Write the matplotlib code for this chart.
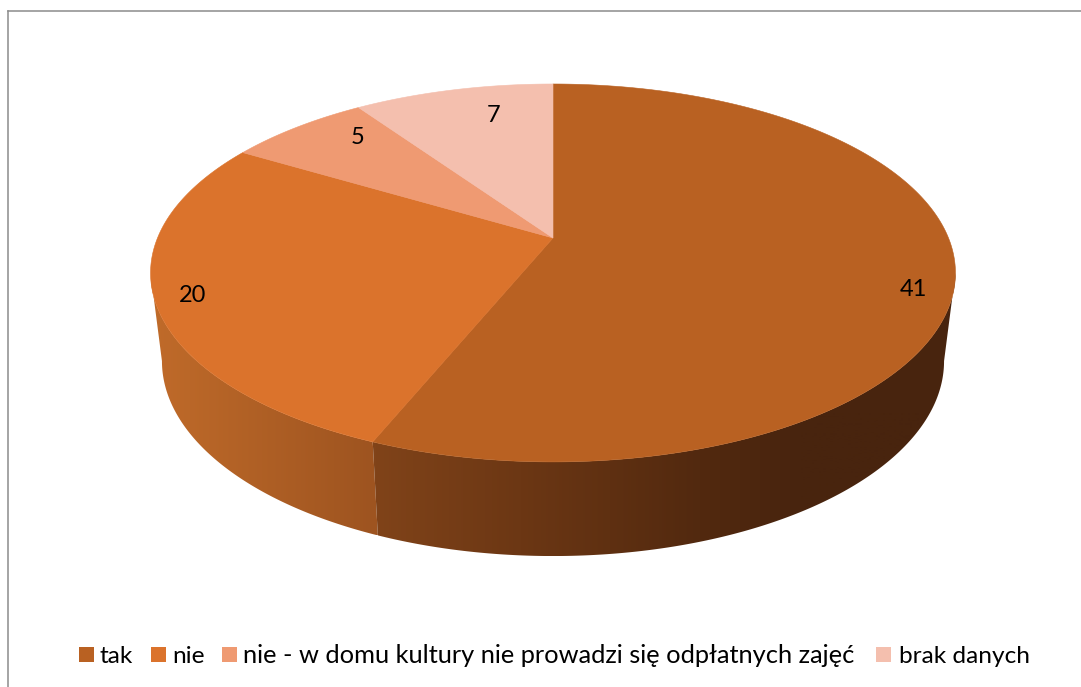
import numpy as np
import matplotlib
matplotlib.use("Agg")
import matplotlib.pyplot as plt
from matplotlib.patches import Polygon, Rectangle

labels = ["tak", "nie", "nie - w domu kultury nie prowadzi się odpłatnych zajęć", "brak danych"]
values = [41, 20, 5, 7]
colors = ["#B96122", "#DB732C", "#EF9A72", "#F4BFAE"]

plt.rcParams['font.family'] = ['Lato', 'DejaVu Sans']

fig = plt.figure(figsize=(10.81, 6.87), dpi=100)
ax = fig.add_axes([0, 0, 1, 1])

# rzut perspektywiczny okregu na ekran
C = 0.185


def project(ang, cx, cy, sx, sy):
    x = np.sin(ang)
    y = np.cos(ang)
    w = 1 + C * y
    return cx + sx * x / w, cy - sy * y / w


top = (553, 238, 395.5, 182.5)
bottom = (553, 325, 384.3, 188.3)

edges = np.radians(np.concatenate([[0], np.cumsum(values)]) / sum(values) * 360)

# cieniowanie boku zalezy od x
side_x = [[376, 520, 700, 800], [150, 373]]
side_rgb = [[(128, 67, 25), (108, 55, 20), (82, 41, 15), (72, 36, 14)],
            [(192, 107, 42), (158, 84, 32)]]
# widoczna czesc boku konczy sie na skrajnym punkcie elipsy
edge_ang = np.arccos(-C)
side_ang = [(edge_ang, edges[1]), (edges[1], 2 * np.pi - edge_ang)]

for i in [1, 0]:
    ang = np.linspace(side_ang[i][0], side_ang[i][1], 300)
    xt, yt = project(ang, *top)
    xb, yb = project(ang, *bottom)
    pts = np.column_stack([np.r_[xt, xb[::-1]], np.r_[yt, yb[::-1]]])
    x0, x1 = pts[:, 0].min(), pts[:, 0].max()
    xs = np.arange(x0, x1 + 1)
    grad = np.array([[np.interp(xs, side_x[i], [c[k] for c in side_rgb[i]]) / 255 for k in range(3)]])
    grad = np.transpose(grad, (0, 2, 1))
    im = ax.imshow(grad, extent=(x0, x1, pts[:, 1].max(), pts[:, 1].min()), aspect="auto", zorder=2)
    im.set_clip_path(Polygon(pts, closed=True, transform=ax.transData))

for i in range(len(values)):
    ang = np.linspace(edges[i], edges[i + 1], 300)
    xt, yt = project(ang, *top)
    pts = np.column_stack([np.r_[top[0], xt], np.r_[top[1], yt]])
    ax.add_patch(Polygon(pts, closed=True, fc=colors[i], ec=colors[i], lw=0.4, zorder=3))

# etykiety danych
label_xy = [(913, 290), (193, 296), (358, 138), (494, 116)]
for v, (x, y) in zip(values, label_xy):
    ax.text(x, y, str(v), fontsize=17, color="black", ha="center", va="center", zorder=4)

# legenda
box_x = [79, 151, 222, 876]
text_x = [100, 172, 243, 899]
text_size = [17.6, 17.6, 18.3, 17.6]
for i in range(len(labels)):
    ax.add_patch(Rectangle((box_x[i], 647), 15, 15, fc=colors[i], ec="none"))
    ax.text(text_x[i], 663, labels[i], fontsize=text_size[i], color="black", ha="left", va="baseline")

# ramka
ax.plot([7.5, 7.5], [687, 10.5], color="#8C8C8C", lw=1.1)
ax.plot([7.5, 1081], [10.5, 10.5], color="#8C8C8C", lw=1.1)

ax.set_xlim(0, 1081)
ax.set_ylim(687, 0)
ax.axis("off")

fig.savefig("out.png", dpi=100)
